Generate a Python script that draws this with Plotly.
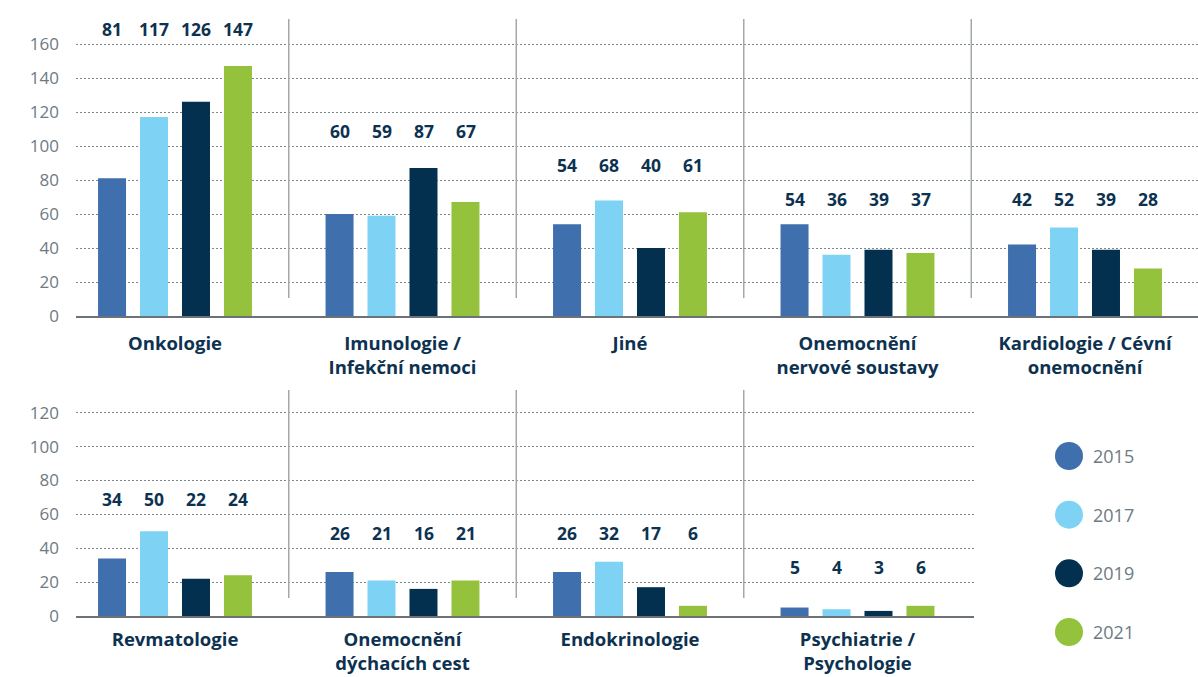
import math
import plotly.graph_objects as go

# ---------------- data ----------------
years = ["2015", "2017", "2019", "2021"]

categories_top = [
    "Onkologie",
    "Imunologie /<br>Infekční nemoci",
    "Jiné",
    "Onemocnění<br>nervové soustavy",
    "Kardiologie / Cévní<br>onemocnění",
]
values_top = {
    "2015": [81, 60, 54, 54, 42],
    "2017": [117, 59, 68, 36, 52],
    "2019": [126, 87, 40, 39, 39],
    "2021": [147, 67, 61, 37, 28],
}

categories_bottom = [
    "Revmatologie",
    "Onemocnění<br>dýchacích cest",
    "Endokrinologie",
    "Psychiatrie /<br>Psychologie",
]
values_bottom = {
    "2015": [34, 26, 26, 5],
    "2017": [50, 21, 32, 4],
    "2019": [22, 16, 17, 3],
    "2021": [24, 21, 6, 6],
}

ticks_top = [0, 20, 40, 60, 80, 100, 120, 140, 160]
ticks_bottom = [0, 20, 40, 60, 80, 100, 120]

# ---------------- style ----------------
colors = {"2015": "#3f6fad", "2017": "#7ed3f5", "2019": "#03304f", "2021": "#95c23c"}
NAVY = "#0d3251"
GRAY_TXT = "#6e7a82"
GRID = "#7f888d"
AXIS = "#6b7378"
DIV = "#a3a8ac"
FONT = "Open Sans"

W, H = 1198, 677
PX_UNIT_X = 227.5           # px per category
X_LEFT_PX = 76
X0_CENTER_PX = 175

def px_to_idx(px):
    return (px - X0_CENTER_PX) / PX_UNIT_X

fig = go.Figure()

# bars
for yr in years:
    fig.add_trace(go.Bar(x=categories_top, y=values_top[yr], marker_color=colors[yr],
                         marker_line_width=0, xaxis="x", yaxis="y", showlegend=False,
                         name=yr, hoverinfo="skip"))
for yr in years:
    fig.add_trace(go.Bar(x=categories_bottom, y=values_bottom[yr], marker_color=colors[yr],
                         marker_line_width=0, xaxis="x2", yaxis="y2", showlegend=False,
                         name=yr, hoverinfo="skip"))

# legend (custom circles)
fig.add_trace(go.Scatter(x=[0] * len(years), y=list(range(len(years))), mode="markers",
                         marker=dict(size=28, color=[colors[y] for y in years], line_width=0),
                         xaxis="x3", yaxis="y3", showlegend=False, hoverinfo="skip"))

annotations = []
for i, yr in enumerate(years):
    annotations.append(dict(x=0, y=i, xref="x3", yref="y3", text=yr, showarrow=False,
                            xanchor="left", yanchor="middle", xshift=22,
                            font=dict(family=FONT, size=18, color=GRAY_TXT)))

# value labels
slot_px = 42
def add_value_labels(cats, vals, xref, yref):
    for ci, cat in enumerate(cats):
        group = [vals[yr][ci] for yr in years]
        level = math.ceil(max(group) / 20) * 20 + 9
        for j, yr in enumerate(years):
            annotations.append(dict(
                x=cat, y=level, xref=xref, yref=yref, text=str(vals[yr][ci]),
                showarrow=False, xanchor="center", yanchor="middle",
                xshift=(j - 1.5) * slot_px,
                font=dict(family=FONT, size=17.5, color=NAVY, weight="bold")))

add_value_labels(categories_top, values_top, "x", "y")
add_value_labels(categories_bottom, values_bottom, "x2", "y2")

# divider lines
shapes = []
for i in range(len(categories_top) - 1):
    shapes.append(dict(type="line", xref="x", yref="y", x0=i + 0.5, x1=i + 0.5,
                       y0=10.6, y1=174.7, line=dict(color=DIV, width=1.5)))
for i in range(len(categories_bottom) - 1):
    shapes.append(dict(type="line", xref="x2", yref="y2", x0=i + 0.5, x1=i + 0.5,
                       y0=10.6, y1=133.4, line=dict(color=DIV, width=1.5)))

# axes geometry
top_dom = [1 - 316 / H, 1 - 1.5 / H]
bot_dom = [1 - 616 / H, 1 - 378.8 / H]
xr_top = [px_to_idx(X_LEFT_PX), px_to_idx(W)]
xr_bot = [px_to_idx(X_LEFT_PX), px_to_idx(974)]

xcommon = dict(showline=True, linecolor=AXIS, linewidth=2, showgrid=False, zeroline=False,
               ticks="", tickfont=dict(family=FONT, size=18.5, color=NAVY, weight="bold"),
               fixedrange=True, automargin=False)
ycommon = dict(showline=False, showgrid=True, gridcolor=GRID, gridwidth=1,
               griddash="1.5px,2.5px",
               zeroline=False, ticks="", tickfont=dict(family=FONT, size=17, color=GRAY_TXT),
               ticklabelstandoff=16, fixedrange=True, automargin=False)

fig.update_layout(
    width=W, height=H,
    margin=dict(l=0, r=0, t=0, b=0, autoexpand=False),
    paper_bgcolor="white", plot_bgcolor="white",
    barmode="group", bargap=0.262, bargroupgap=0.333,
    showlegend=False,
    font=dict(family=FONT),
    xaxis=dict(domain=[X_LEFT_PX / W, 1], range=xr_top, anchor="y", ticklabelstandoff=10,
               **xcommon),
    yaxis=dict(domain=top_dom, range=[0, 185], tickvals=ticks_top, anchor="x", **ycommon),
    xaxis2=dict(domain=[X_LEFT_PX / W, 974 / W], range=xr_bot, anchor="y2", ticklabelstandoff=6,
                **xcommon),
    yaxis2=dict(domain=bot_dom, range=[0, 140], tickvals=ticks_bottom, anchor="x2", **ycommon),
    xaxis3=dict(domain=[1040 / W, 1], range=[-29, 129], visible=False, fixedrange=True,
                automargin=False),
    yaxis3=dict(domain=[0, 1 - 400 / H], range=[3.767, -0.9545], visible=False, fixedrange=True,
                anchor="x3", automargin=False),
    annotations=annotations,
    shapes=shapes,
)

fig.write_html("out.html")
